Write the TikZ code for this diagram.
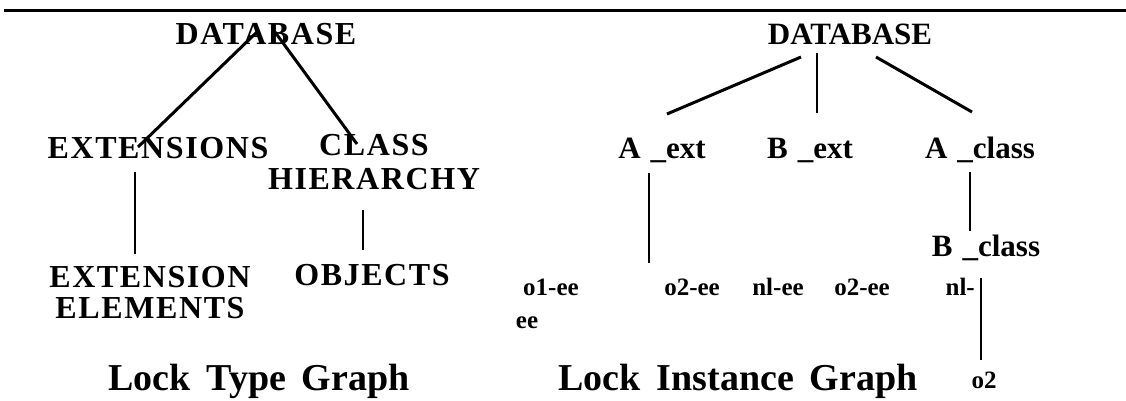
\documentclass[tikz,border=0pt]{standalone}
\usepackage{fontspec}
\setmainfont{Liberation Serif}
\newfontfamily\spc[LetterSpace=5]{Liberation Serif}
\begin{document}
\begin{tikzpicture}[x=1pt,y=-1pt,
  hd/.style={font=\fontsize{31}{34}\selectfont\bfseries, inner sep=0pt, anchor=base},
  hdl/.style={font=\spc\fontsize{32}{34}\selectfont\bfseries, inner sep=0pt, anchor=base},
  sm/.style={font=\fontsize{25}{28}\selectfont\bfseries, inner sep=0pt, anchor=base},
  ttl/.style={font=\fontsize{38}{40}\selectfont\bfseries, inner sep=0pt, anchor=base},
  thk/.style={line width=3pt},
  thn/.style={line width=2pt}]
\useasboundingbox (0,0) rectangle (1126,400);

% top rule
\coordinate (r1) at (4,10);
\coordinate (r2) at (1126,10);
\draw[thk] (r1) -- (r2);

% ---------- Lock Type Graph ----------
\node[hdl] (db1) at (266,44) {DATABASE};
\node[hdl] (ext) at (158,158) {EXTENSIONS};
\node[hdl, align=center, font=\spc\fontsize{32}{34}\selectfont\bfseries] (cls) at (374,189) {CLASS\\HIERARCHY};
\node[hdl, align=center, font=\spc\fontsize{32}{31}\selectfont\bfseries] (ele) at (150,318) {EXTENSION\\ELEMENTS};
\node[hdl] (obj) at (372,285) {OBJECTS};
\node[ttl] (t1) at (259,390) {Lock\, Type\, Graph};

\coordinate (a1) at (258,31);  \coordinate (a2) at (138,147);
\coordinate (b1) at (275,32);  \coordinate (b2) at (357,144);
\coordinate (c1) at (135,172); \coordinate (c2) at (135,254);
\coordinate (d1) at (363,210); \coordinate (d2) at (363,250);
\draw[thk] (a1) -- (a2);
\draw[thk] (b1) -- (b2);
\draw[thn] (c1) -- (c2);
\draw[thn] (d1) -- (d2);

% ---------- Lock Instance Graph ----------
\node[hd] (db2) at (850,44) {DATABASE};
\node[hd] (aext) at (662,158) {A\hspace{10pt}\_ext};
\node[hd] (bext) at (810,158) {B\hspace{10pt}\_ext};
\node[hd] (acls) at (980,158) {A\hspace{10pt}\_class};
\node[hd] (bcls) at (986,256) {B\hspace{10pt}\_class};

\node[sm] (o1) at (551,295) {o1-ee};
\node[sm] (o1b) at (527,328) {ee};
\node[sm] (o2a) at (692,295) {o2-ee};
\node[sm] (n1a) at (778,295) {nl-ee};
\node[sm] (o2b) at (862,295) {o2-ee};
\node[sm, anchor=base east] (n1b) at (975,295) {nl-};
\node[sm] (o2c) at (984,388) {o2};
\node[ttl] (t2) at (738,390) {Lock\, Instance\, Graph};

\coordinate (e1) at (801,57);  \coordinate (e2) at (667,114);
\coordinate (f1) at (817,53);  \coordinate (f2) at (817,113);
\coordinate (g1) at (876,57);  \coordinate (g2) at (972,112);
\coordinate (h1) at (649,173); \coordinate (h2) at (649,263);
\coordinate (i1) at (970,172); \coordinate (i2) at (970,231);
\coordinate (j1) at (981,278); \coordinate (j2) at (981,360);
\draw[thk] (e1) -- (e2);
\draw[thn] (f1) -- (f2);
\draw[thk] (g1) -- (g2);
\draw[thn] (h1) -- (h2);
\draw[thn] (i1) -- (i2);
\draw[thn] (j1) -- (j2);
\end{tikzpicture}
\end{document}
